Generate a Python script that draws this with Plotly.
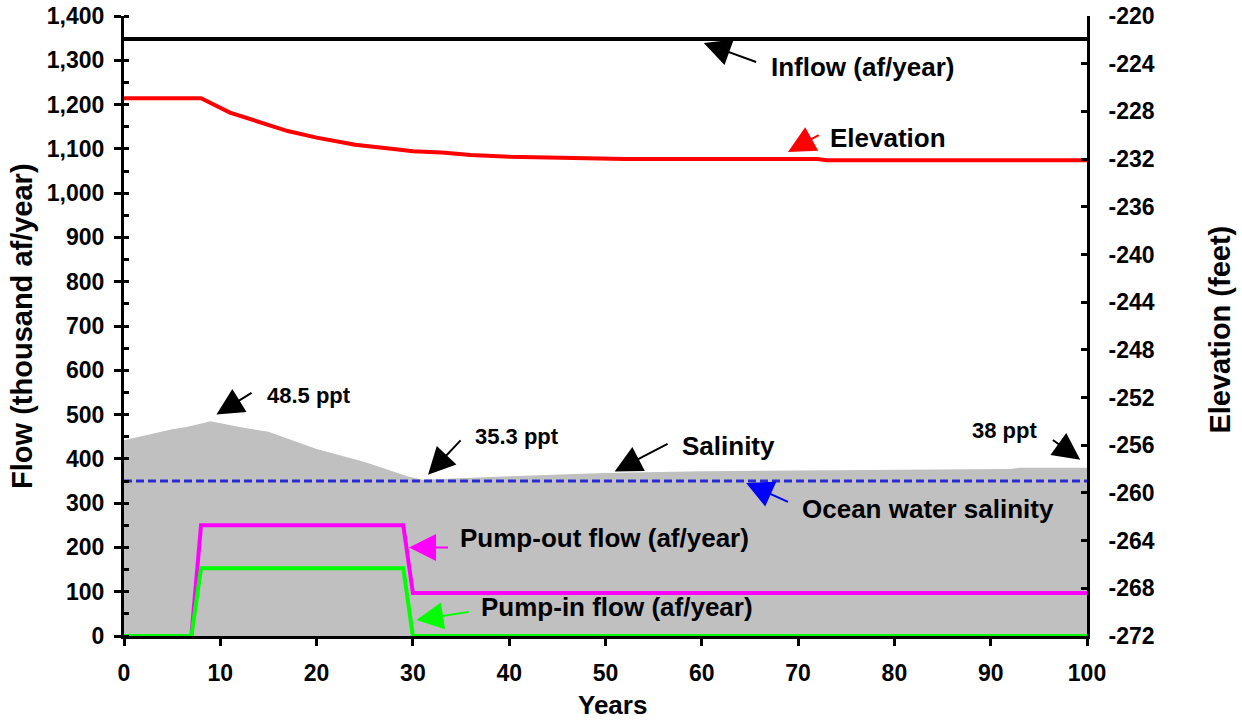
import plotly.graph_objects as go

# ---------------- data ----------------
years_inflow = [0, 100]
inflow = [1348, 1348]  # thousand af/year

years_elev = [0, 8, 11, 14, 17, 20, 24, 28, 30, 33, 36, 40, 46, 48, 52, 60, 72, 73, 100]
elevation = [-226.9, -226.9, -228.1, -228.9, -229.65, -230.2, -230.8, -231.15, -231.35,
             -231.45, -231.65, -231.8, -231.9, -232.0, -232.0, -232.0, -232.0, -232.1, -232.1]  # feet

years_sal = [0, 3, 5, 6.5, 9, 12, 15, 20, 25, 29.5, 31, 40, 50, 60, 70, 80, 92, 93, 100]
salinity = [44.2, 45.8, 46.7, 47.2, 48.5, 47.2, 46.1, 42.2, 39.3, 36.0, 35.3, 36.1, 36.8,
            37.2, 37.4, 37.6, 37.7, 38.0, 38.0]  # ppt

years_ocean = [0, 100]
ocean_salinity = [35, 35]  # ppt

years_pump = [0, 7, 8, 29, 30, 100]
pump_out = [0, 0, 250, 250, 97, 97]
pump_in = [0, 0, 153, 153, 0, 0]

x_ticks = [0, 10, 20, 30, 40, 50, 60, 70, 80, 90, 100]
right_ticks = list(range(-272, -219, 4))
right_ticktext = [str(v) for v in right_ticks]

# annotation labels: text, x, y (data), font size
labels = [
    ("Inflow (af/year)", 66.95, 1284, 26),
    ("Elevation", 73.1, 1125, 26),
    ("48.5 ppt", 14.6, 544, 22),
    ("35.3 ppt", 36.2, 451, 22),
    ("Salinity", 57.7, 428, 26),
    ("38 ppt", 87.8, 464, 22),
    ("Ocean water salinity", 70.2, 287, 26),
    ("Pump-out flow (af/year)", 34.7, 221, 26),
    ("Pump-in flow (af/year)", 36.9, 66, 26),
]
# arrows: head x, head y, tail x, tail y, colour
arrows = [
    (60.2, 1339, 65.8, 1295, "black"),
    (68.95, 1093, 72.3, 1133, "#ff0000"),
    (9.6, 500, 13.4, 551, "black"),
    (31.57, 364, 35.1, 445, "black"),
    (50.95, 371.6, 56.6, 435.8, "black"),
    (99.3, 398, 96.3, 445, "black"),
    (64.6, 345.4, 69.1, 301.5, "#0000ff"),
    (29.6, 199.7, 33.8, 199.7, "#ff00ff"),
    (30.36, 36.2, 35.97, 55, "#00ff00"),
]

FONT = "Arial, 'Liberation Sans', sans-serif"

fig = go.Figure()

fig.add_trace(go.Scatter(x=years_sal, y=salinity, yaxis="y3", mode="lines",
                         line=dict(width=0, color="#c0c0c0"), fill="tozeroy",
                         fillcolor="#c0c0c0", name="Salinity", hoverinfo="skip"))
fig.add_trace(go.Scatter(x=years_ocean, y=ocean_salinity, yaxis="y3", mode="lines",
                         line=dict(width=3, color="#2a2ad4", dash="8px,4px"),
                         name="Ocean water salinity"))
fig.add_trace(go.Scatter(x=years_pump, y=pump_out, yaxis="y4", mode="lines",
                         line=dict(width=4, color="#ff00ff"), name="Pump-out"))
fig.add_trace(go.Scatter(x=years_pump, y=pump_in, yaxis="y4", mode="lines",
                         line=dict(width=4, color="#00ff00"), name="Pump-in"))
fig.add_trace(go.Scatter(x=years_inflow, y=inflow, yaxis="y4", mode="lines",
                         line=dict(width=4, color="black"), name="Inflow"))
fig.add_trace(go.Scatter(x=years_elev, y=elevation, yaxis="y2", mode="lines",
                         line=dict(width=4, color="#ff0000"), name="Elevation"))

annotations = []
for t, x, y, s in labels:
    annotations.append(dict(text=t, x=x, y=y, xref="x", yref="y", xanchor="left",
                            yanchor="middle", showarrow=False,
                            font=dict(family=FONT, size=s, color="black", weight="bold")))
for hx, hy, tx, ty, c in arrows:
    annotations.append(dict(text="", x=hx, y=hy, ax=tx, ay=ty, xref="x", yref="y",
                            axref="x", ayref="y", showarrow=True, arrowhead=2,
                            arrowsize=2.7, arrowwidth=2, arrowcolor=c))
annotations += [
    dict(text="Flow (thousand af/year)", x=-0.106, y=0.5, xref="paper", yref="paper",
         textangle=-90, showarrow=False, xanchor="center", yanchor="middle",
         font=dict(family=FONT, size=29, color="black", weight="bold")),
    dict(text="Elevation (feet)", x=1.138, y=0.494, xref="paper", yref="paper",
         textangle=-90, showarrow=False, xanchor="center", yanchor="middle",
         font=dict(family=FONT, size=29, color="black", weight="bold")),
    dict(text="Years", x=0.507, y=-0.112, xref="paper", yref="paper",
         showarrow=False, xanchor="center", yanchor="middle",
         font=dict(family=FONT, size=26, color="black", weight="bold")),
]

tickfont = dict(family=FONT, size=23, color="black", weight="bold")

fig.update_layout(
    width=1242, height=721,
    margin=dict(l=124, r=155, t=16, b=85, autoexpand=False),
    paper_bgcolor="white", plot_bgcolor="white",
    showlegend=False,
    annotations=annotations,
    xaxis=dict(range=[0, 100], tickvals=x_ticks, showline=True, linecolor="black",
               linewidth=3, ticks="outside", ticklen=7, tickwidth=3, tickcolor="black",
               showgrid=False, zeroline=False, tickfont=tickfont, ticklabelstandoff=7,
               automargin=False),
    yaxis=dict(range=[0, 1400], dtick=100, tickformat=",", showline=True,
               linecolor="black", linewidth=3, ticks="outside", ticklen=7, tickwidth=3,
               tickcolor="black", showgrid=False, zeroline=False, tickfont=tickfont,
               ticklabelstandoff=5, automargin=False,
               minor=dict(dtick=50, ticks="inside", ticklen=5, tickwidth=3,
                          tickcolor="black", showgrid=False)),
    yaxis2=dict(range=[-272, -220], overlaying="y", side="right", tickvals=right_ticks,
                ticktext=right_ticktext, showline=True, linecolor="black", linewidth=3,
                ticks="inside", ticklen=6, tickwidth=3, tickcolor="black", showgrid=False,
                zeroline=False, tickfont=tickfont, ticklabelstandoff=14, automargin=False),
    yaxis3=dict(range=[0, 140], overlaying="y", visible=False, showgrid=False,
                zeroline=False, automargin=False),
    yaxis4=dict(range=[0, 1400], overlaying="y", visible=False, showgrid=False,
                zeroline=False, automargin=False),
)

fig.write_html("out.html")
